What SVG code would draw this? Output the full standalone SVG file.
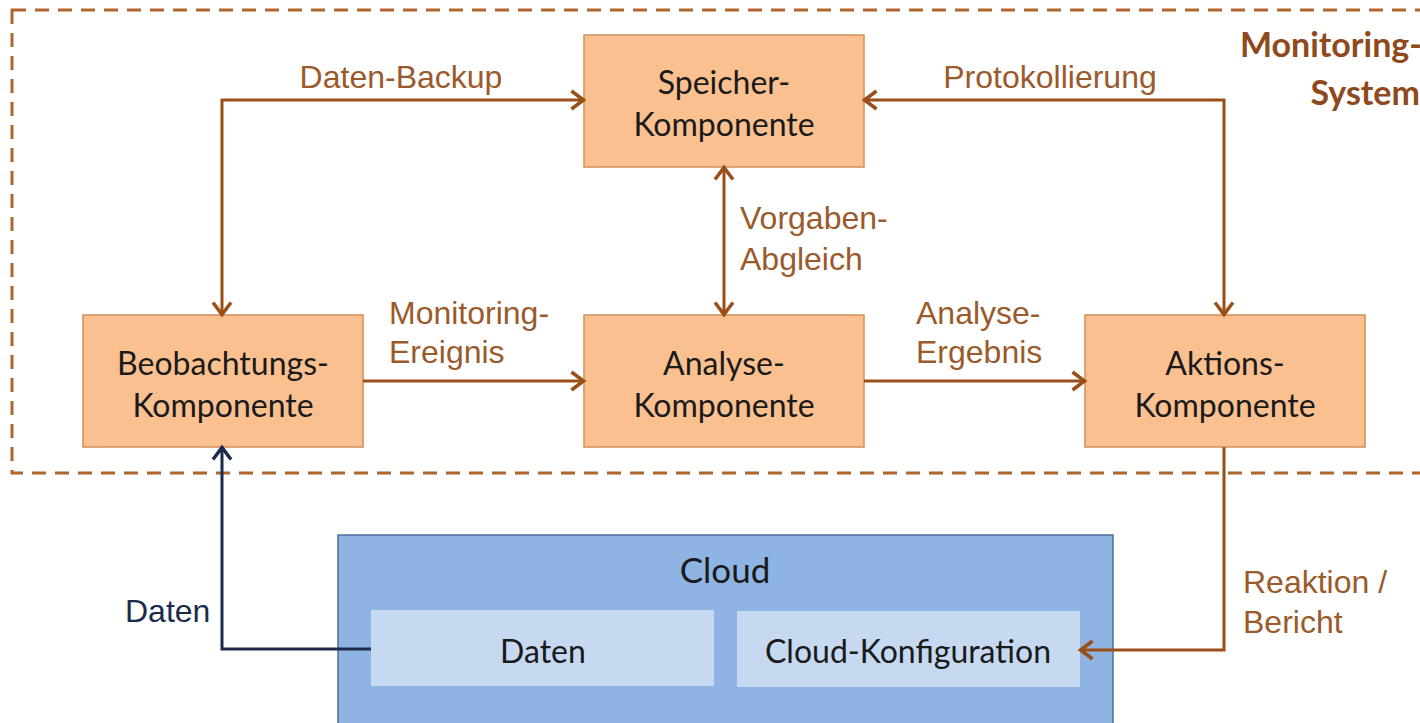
<svg xmlns="http://www.w3.org/2000/svg" width="1420" height="723" viewBox="0 0 1420 723">
<style>
.box{fill:#FAC090;stroke:#D38D58;stroke-width:1.5}
.bt{font-family:Lato,"Liberation Sans",sans-serif;font-size:32px;fill:#1a1a1a;text-anchor:middle}
.el{font-family:"Liberation Sans",Arial,sans-serif;font-size:32px;fill:#9A5A2C}
.c{fill:none;stroke:#9A4F18;stroke-width:3;stroke-linejoin:miter}
.cn{fill:none;stroke:#1C2B4B;stroke-width:3}
</style>
<defs>
<marker id="a" viewBox="0 0 18 22" refX="15" refY="11" markerWidth="18" markerHeight="22" markerUnits="userSpaceOnUse" orient="auto-start-reverse">
<path d="M2.5,2 L14.5,11 L2.5,20" fill="none" stroke="#9A4F18" stroke-width="3.5"/>
</marker>
<marker id="an" viewBox="0 0 18 22" refX="15" refY="11" markerWidth="18" markerHeight="22" markerUnits="userSpaceOnUse" orient="auto-start-reverse">
<path d="M2.5,2 L14.5,11 L2.5,20" fill="none" stroke="#1C2B4B" stroke-width="3.5"/>
</marker>
</defs>
<rect width="1420" height="723" fill="#ffffff"/>
<g id="monitoring-system">
<rect x="12" y="10" width="1430" height="463" fill="none" stroke="#B0652F" stroke-width="3" stroke-dasharray="14 9"/>
<text x="1422" y="57" font-family="Lato,'Liberation Sans',sans-serif" font-weight="bold" font-size="34" fill="#8E4A1C" text-anchor="end">Monitoring-</text>
<text x="1420" y="105" font-family="Lato,'Liberation Sans',sans-serif" font-weight="bold" font-size="34" fill="#8E4A1C" text-anchor="end">System</text>
</g>
<g id="speicher">
<rect class="box" x="584" y="35" width="280" height="132"/>
<text class="bt" x="724" y="94">Speicher-</text>
<text class="bt" x="724" y="136">Komponente</text>
</g>
<g id="beobachtung">
<rect class="box" x="83" y="315" width="280" height="132"/>
<text class="bt" x="223" y="375">Beobachtungs-</text>
<text class="bt" x="223" y="417">Komponente</text>
</g>
<g id="analyse">
<rect class="box" x="584" y="315" width="280" height="132"/>
<text class="bt" x="724" y="375">Analyse-</text>
<text class="bt" x="724" y="417">Komponente</text>
</g>
<g id="aktion">
<rect class="box" x="1085" y="315" width="280" height="132"/>
<text class="bt" x="1225" y="375">Aktions-</text>
<text class="bt" x="1225" y="417">Komponente</text>
</g>
<g id="cloud">
<rect x="338" y="535" width="775" height="200" fill="#8EB4E3" stroke="#4F6E9C" stroke-width="1.5"/>
<text class="bt" x="725" y="583" style="font-size:35px">Cloud</text>
</g>
<g id="cloud-daten">
<rect x="371" y="610" width="343" height="76" fill="#C6D9F1"/>
<text class="bt" x="543" y="663">Daten</text>
</g>
<g id="cloud-konfiguration">
<rect x="737" y="611" width="343" height="76" fill="#C6D9F1"/>
<text class="bt" x="908" y="663">Cloud-Konfiguration</text>
</g>
<g id="connectors">
<path class="c" d="M222,315 V100 H584" marker-start="url(#a)" marker-end="url(#a)"/>
<path class="c" d="M864,100 H1224 V315" marker-start="url(#a)" marker-end="url(#a)"/>
<path class="c" d="M724,167 V315" marker-start="url(#a)" marker-end="url(#a)"/>
<path class="c" d="M363,381 H584" marker-end="url(#a)"/>
<path class="c" d="M864,381 H1085" marker-end="url(#a)"/>
<path class="c" d="M1224,447 V650 H1080" marker-end="url(#a)"/>
<path class="cn" d="M371,649 H222 V447" marker-end="url(#an)"/>
<text class="el" x="401" y="88" text-anchor="middle">Daten-Backup</text>
<text class="el" x="1050" y="88" text-anchor="middle">Protokollierung</text>
<text class="el" x="740" y="229">Vorgaben-</text>
<text class="el" x="740" y="270">Abgleich</text>
<text class="el" x="389" y="324">Monitoring-</text>
<text class="el" x="389" y="363">Ereignis</text>
<text class="el" x="916" y="324">Analyse-</text>
<text class="el" x="916" y="363">Ergebnis</text>
<text class="el" x="1243" y="593">Reaktion /</text>
<text class="el" x="1243" y="633">Bericht</text>
<text class="el" x="125" y="622" style="fill:#1C2B4B">Daten</text>
</g>
</svg>
